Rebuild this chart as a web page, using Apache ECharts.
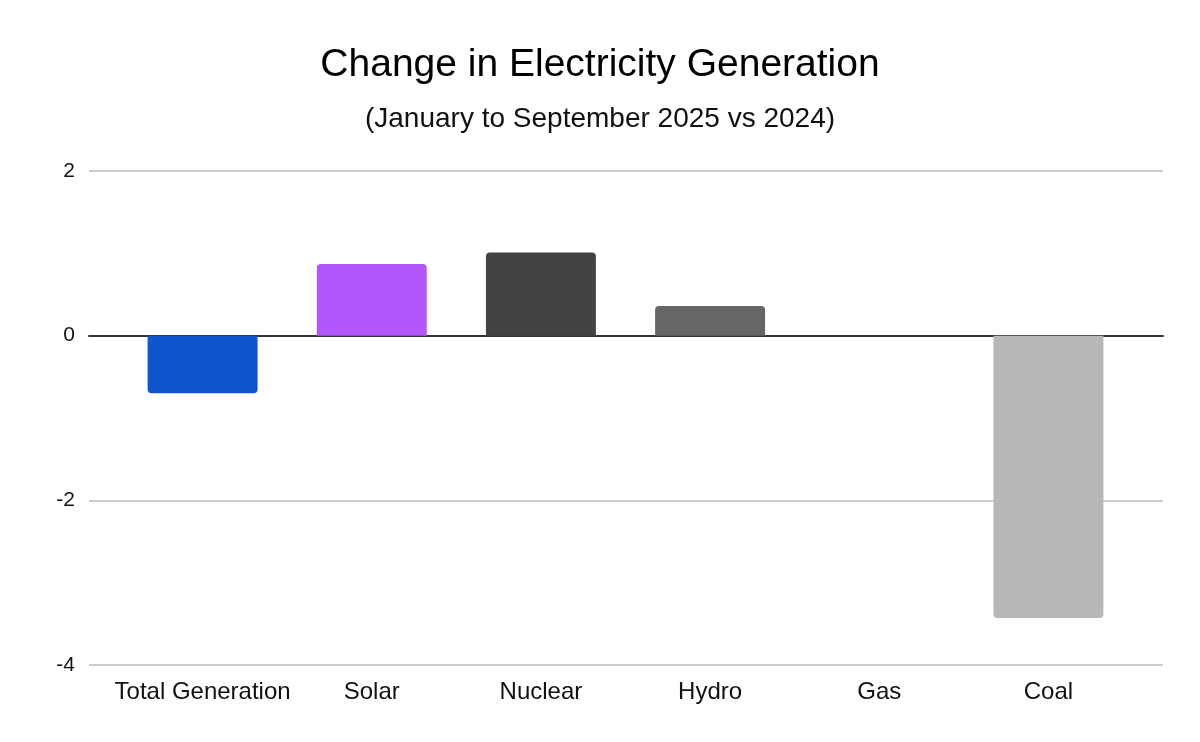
<!DOCTYPE html>
<html>
<head>
<meta charset="utf-8">
<script src="https://cdn.jsdelivr.net/npm/echarts@6/dist/echarts.min.js"></script>
<style>html,body{margin:0;padding:0;background:#fff}#c{width:1200px;height:742px}</style>
</head>
<body>
<div id="c"></div>
<script>
const categories = ['Total Generation', 'Solar', 'Nuclear', 'Hydro', 'Gas', 'Coal'];
const values = [-0.70, 0.87, 1.01, 0.36, 0, -3.43];
const barColors = ['#1155cc', '#b157fb', '#434343', '#666666', '#999999', '#b7b7b7'];
const yTicks = { min: -4, max: 2, interval: 2 };

const font = 'Arial, "Liberation Sans", sans-serif';
const chart = echarts.init(document.getElementById('c'), null, { renderer: 'canvas' });
chart.setOption({
  backgroundColor: '#ffffff',
  animation: false,
  title: [
    { text: 'Change in Electricity Generation', left: 'center', top: 41,
      textStyle: { fontFamily: font, fontSize: 39, fontWeight: 'normal', color: '#000' } },
    { text: '(January to September 2025 vs 2024)', left: 'center', top: 100,
      textStyle: { fontFamily: font, fontSize: 28, fontWeight: 'normal', color: '#111' } }
  ],
  grid: [
    { left: 89, right: 37, top: 171, bottom: 77, containLabel: false },
    { left: 118, right: 67, top: 171, bottom: 77, containLabel: false }
  ],
  xAxis: [
    { type: 'category', gridIndex: 0, data: [''],
      axisLine: { onZero: true, lineStyle: { color: '#333333', width: 2 } },
      axisTick: { show: false }, axisLabel: { show: false } },
    { type: 'category', gridIndex: 1, data: categories,
      axisLine: { show: false },
      axisTick: { show: false },
      axisLabel: { interval: 0, margin: 15, fontFamily: font, fontSize: 24, color: '#111' },
      position: 'bottom' }
  ],
  yAxis: [
    { type: 'value', gridIndex: 0,
      min: yTicks.min, max: yTicks.max, interval: yTicks.interval,
      axisLine: { show: false }, axisTick: { show: false },
      splitLine: { lineStyle: { color: '#cccccc', width: 2 } },
      axisLabel: { margin: 14, fontFamily: font, fontSize: 21, color: '#111' } },
    { type: 'value', gridIndex: 1,
      min: yTicks.min, max: yTicks.max, interval: yTicks.interval,
      axisLine: { show: false }, axisTick: { show: false },
      splitLine: { show: false }, axisLabel: { show: false } }
  ],
  series: [
    { type: 'bar', xAxisIndex: 0, yAxisIndex: 0, data: [], silent: true },
    {
      type: 'bar', xAxisIndex: 1, yAxisIndex: 1,
      barWidth: '65%',
      data: values.map((v, i) => ({
        value: v,
        itemStyle: {
          color: barColors[i],
          borderRadius: v >= 0 ? [4, 4, 0, 0] : [0, 0, 4, 4]
        }
      })),
      z: 1
    }
  ]
});
</script>
</body>
</html>
